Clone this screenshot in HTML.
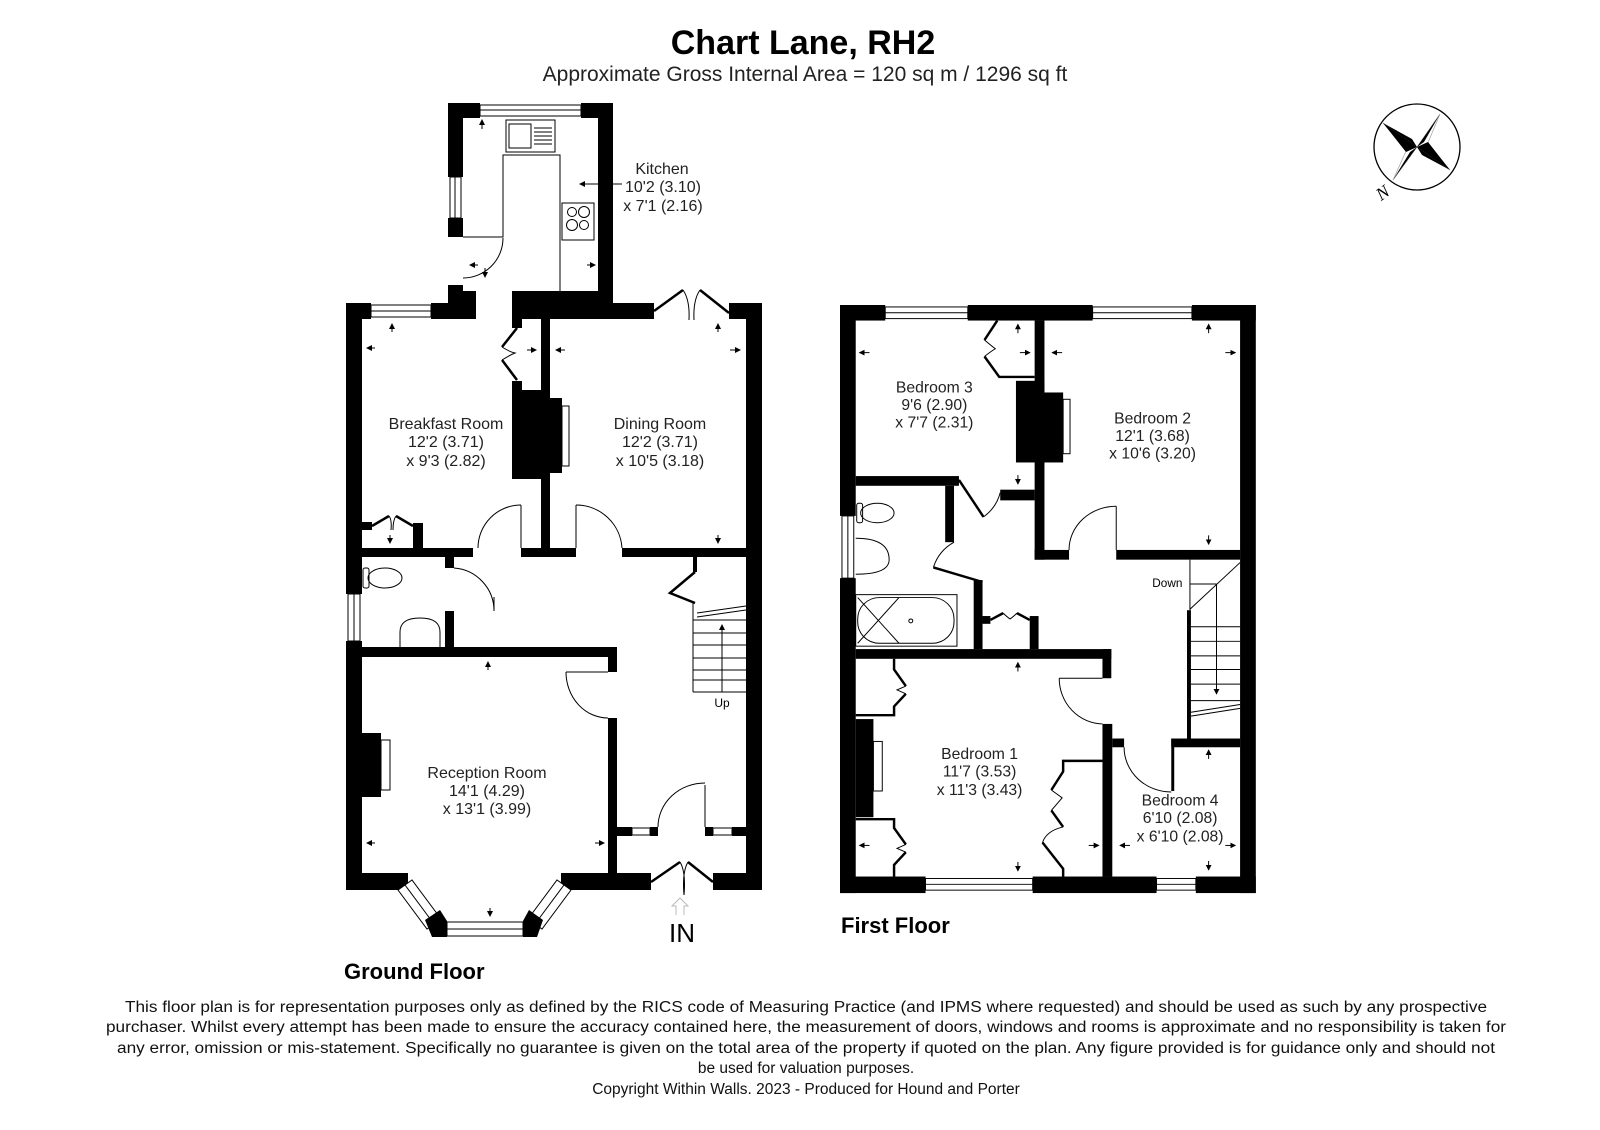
<!DOCTYPE html>
<html><head><meta charset="utf-8"><style>
html,body{margin:0;padding:0;background:#fff;}
svg{display:block;font-family:"Liberation Sans",Arial,sans-serif;}
.w{fill:#000}
.win{fill:#fff;stroke:#000;stroke-width:1}
.t{stroke:#000;stroke-width:1;fill:none}
.tk{stroke:#000;stroke-width:2.5;fill:none}
.lbl{font-size:16px;text-anchor:middle;fill:#222}
</style></head><body>
<svg width="1600" height="1130" viewBox="0 0 1600 1130" xmlns="http://www.w3.org/2000/svg">
<defs><marker id="ar" markerWidth="6" markerHeight="6" refX="5" refY="3" orient="auto"><path d="M0,0 L6,3 L0,6 z" fill="#000"/></marker></defs>
<text x="803" y="54" font-size="34" font-weight="bold" text-anchor="middle">Chart Lane, RH2</text>
<text x="805" y="81" font-size="21" text-anchor="middle" fill="#222">Approximate Gross Internal Area = 120 sq m / 1296 sq ft</text>

<!-- ===== GROUND FLOOR ===== -->
<g>
<rect class="w" x="448" y="103" width="32" height="15"/>
<rect class="w" x="581" y="103" width="32" height="15"/>
<rect class="win" x="480" y="105" width="101" height="11"/><line class="t" x1="480" y1="110" x2="581" y2="110"/>
<rect class="w" x="448" y="103" width="15" height="74"/>
<rect class="win" x="450" y="177" width="11" height="41"/><line class="t" x1="455" y1="177" x2="455" y2="218"/>
<rect class="w" x="448" y="218" width="15" height="19"/>
<rect class="w" x="598" y="103" width="15" height="216"/>
<rect class="w" x="448" y="285" width="15" height="34"/>
<rect class="w" x="463" y="291" width="13" height="28"/>
<rect class="w" x="512" y="291" width="101" height="28"/>
<path class="t" d="M463,237 H503 V155 H560 V291"/>
<rect class="t" x="506" y="120" width="49" height="32"/><rect class="t" x="509" y="124" width="22" height="24"/>
<g class="t"><line x1="534" y1="128" x2="552" y2="128"/><line x1="534" y1="132" x2="552" y2="132"/><line x1="534" y1="136" x2="552" y2="136"/><line x1="534" y1="140" x2="552" y2="140"/><line x1="534" y1="144" x2="552" y2="144"/></g>
<rect class="t" x="562" y="203" width="32" height="37"/>
<circle class="t" cx="572" cy="212" r="4.5"/><circle class="t" cx="584" cy="212" r="5.5"/><circle class="t" cx="572" cy="225" r="5.5"/><circle class="t" cx="584" cy="225" r="4.5"/>
<path class="t" d="M503,238 A40,40 0 0 1 463,278"/>
<line x1="482" y1="121" x2="482" y2="130" stroke="#000" marker-end="url(#ar)" transform="rotate(180 482 125)"/>

<rect class="w" x="346" y="303" width="25" height="16"/>
<rect class="win" x="371" y="305" width="60" height="12"/><line class="t" x1="371" y1="311" x2="431" y2="311"/>
<rect class="w" x="431" y="303" width="45" height="16"/>
<rect class="w" x="512" y="303" width="142" height="16"/>
<rect class="w" x="729" y="303" width="33" height="16"/>
<path class="tk" d="M654,311 L683,290 M729,313 L700,290"/>
<path class="t" d="M683,290 Q690,300 689,320 M700,290 Q693,300 694,320"/>
<rect class="w" x="346" y="303" width="16" height="291"/>
<rect class="win" x="348" y="594" width="12" height="47"/><line class="t" x1="354" y1="594" x2="354" y2="641"/>
<rect class="w" x="346" y="641" width="16" height="249"/>
<rect class="w" x="746" y="303" width="16" height="587"/>
<rect class="w" x="346" y="873" width="62" height="17"/>
<rect class="w" x="561" y="873" width="90" height="17"/>
<rect class="w" x="713" y="873" width="49" height="17"/>
<polygon class="w" points="396,873 408,873 408,890 420,890 413,893 403,890"/>
<polygon class="w" points="573,873 561,873 561,890 549,890 556,893 566,890"/>
<polygon class="win" points="398,890 412,880 441,919 427,929"/>
<line class="t" x1="405" y1="885" x2="434" y2="924"/>
<polygon class="win" points="571,890 557,880 528,919 542,929"/>
<line class="t" x1="564" y1="885" x2="535" y2="924"/>
<polygon class="w" points="425,920 440,910 447,921 447,937 432,937"/>
<polygon class="w" points="543,920 529,910 523,921 523,937 537,937"/>
<rect class="win" x="447" y="922" width="76" height="14"/><line class="t" x1="447" y1="929" x2="523" y2="929"/>
<path class="tk" d="M651,882 L680,862 M713,882 L688,862"/>
<path class="t" d="M680,862 Q686,872 684,895 M688,862 Q682,872 684,895"/>

<rect class="w" x="541" y="319" width="9" height="238"/>
<rect class="w" x="512" y="319" width="10" height="9"/>
<rect class="w" x="512" y="381" width="10" height="9"/>
<rect class="w" x="512" y="390" width="29" height="89"/>
<rect class="w" x="541" y="398" width="21" height="75"/>
<rect class="t" x="562" y="406" width="7" height="60"/>
<path class="tk" d="M517,328 L502,347 M502,360 L517,380"/>
<path class="t" d="M502,347 Q510,352 515,353 Q510,355 502,360"/>
<rect class="w" x="362" y="548" width="111" height="9"/>
<rect class="w" x="521" y="548" width="55" height="9"/>
<rect class="w" x="622" y="548" width="124" height="9"/>
<line class="t" x1="521" y1="505" x2="521" y2="548"/><path class="t" d="M521,505 A43,43 0 0 0 478,548"/>
<line class="t" x1="576" y1="505" x2="576" y2="548"/><path class="t" d="M576,505 A46,46 0 0 1 622,548"/>
<rect class="w" x="362" y="522" width="10" height="8"/>
<rect class="w" x="413" y="523" width="10" height="25"/>
<path class="tk" d="M372,526 L389,516 M413,526 L396,516"/>
<path class="t" d="M389,516 Q392,520 391,530 M396,516 Q393,520 393,530"/>
<rect class="w" x="445" y="557" width="9" height="11"/>
<rect class="w" x="445" y="611" width="9" height="46"/>
<path class="t" d="M454,568 A43,43 0 0 1 494,611 L494,597"/>
<rect class="w" x="362" y="647" width="255" height="10"/>
<rect class="w" x="608" y="647" width="9" height="25"/>
<ellipse class="t" cx="385" cy="578" rx="17" ry="10"/><rect class="t" x="363" y="568" width="6" height="20" rx="2"/>
<path class="t" d="M400,647 V632 Q400,618 420,618 Q440,618 440,632 V647"/>
<rect class="w" x="608" y="718" width="9" height="155"/>
<line class="t" x1="566" y1="672" x2="608" y2="672"/><path class="t" d="M566,672 A42,46 0 0 0 608,718"/>
<rect class="w" x="362" y="733" width="19" height="64"/>
<rect class="t" x="381" y="740" width="9" height="50"/>
<rect class="w" x="617" y="827" width="15" height="9"/>
<rect class="win" x="632" y="828" width="18" height="7"/>
<rect class="w" x="650" y="827" width="8" height="9"/>
<rect class="w" x="705" y="827" width="8" height="9"/>
<rect class="win" x="713" y="828" width="19" height="7"/>
<rect class="w" x="732" y="827" width="14" height="9"/>
<line class="t" x1="705" y1="785" x2="705" y2="827"/><path class="t" d="M658,827 A47,44 0 0 1 705,783"/>
<rect class="w" x="693" y="557" width="4" height="15"/>
<path class="tk" d="M695,572 L670,593 L695,603"/>
<line class="t" x1="693" y1="603" x2="693" y2="692"/>
<line class="t" x1="697" y1="613" x2="746" y2="606"/><line class="t" x1="697" y1="617" x2="746" y2="610"/>
<g class="t"><line x1="693" y1="620" x2="746" y2="620"/><line x1="693" y1="633" x2="746" y2="633"/><line x1="693" y1="645" x2="746" y2="645"/><line x1="693" y1="658" x2="746" y2="658"/><line x1="693" y1="670" x2="746" y2="670"/><line x1="693" y1="680" x2="746" y2="680"/><line x1="693" y1="692" x2="746" y2="692"/></g>
<line x1="722" y1="692" x2="722" y2="625" stroke="#000" marker-end="url(#ar)"/>
<text x="722" y="707" font-size="12" text-anchor="middle">Up</text>
<path d="M676,915 V906 H672 L680,898 L688,906 H684 V915" fill="none" stroke="#bbb" stroke-width="1"/>
<text x="682" y="942" font-size="26" text-anchor="middle">IN</text>

<g stroke="#000" stroke-width="1">
<line x1="375" y1="348" x2="367" y2="348" marker-end="url(#ar)"/>
<line x1="392" y1="332" x2="392" y2="324" marker-end="url(#ar)"/>
<line x1="527" y1="350" x2="536" y2="350" marker-end="url(#ar)"/>
<line x1="565" y1="350" x2="556" y2="350" marker-end="url(#ar)"/>
<line x1="730" y1="350" x2="740" y2="350" marker-end="url(#ar)"/>
<line x1="718" y1="332" x2="718" y2="324" marker-end="url(#ar)"/>
<line x1="718" y1="535" x2="718" y2="543" marker-end="url(#ar)"/>
<line x1="390" y1="535" x2="390" y2="543" marker-end="url(#ar)"/>
<line x1="488" y1="670" x2="488" y2="662" marker-end="url(#ar)"/>
<line x1="375" y1="843" x2="367" y2="843" marker-end="url(#ar)"/>
<line x1="595" y1="843" x2="604" y2="843" marker-end="url(#ar)"/>
<line x1="490" y1="908" x2="490" y2="916" marker-end="url(#ar)"/>
<line x1="485" y1="268" x2="485" y2="277" marker-end="url(#ar)"/>
<line x1="478" y1="265" x2="470" y2="265" marker-end="url(#ar)"/>
<line x1="587" y1="265" x2="595" y2="265" marker-end="url(#ar)"/>
<line x1="622" y1="184" x2="580" y2="184" marker-end="url(#ar)"/>
</g>
<text class="lbl" x="662" y="174">Kitchen</text>
<text class="lbl" x="663" y="192">10'2 (3.10)</text>
<text class="lbl" x="663" y="211">x 7'1 (2.16)</text>
<text class="lbl" x="446" y="429">Breakfast Room</text>
<text class="lbl" x="446" y="447">12'2 (3.71)</text>
<text class="lbl" x="446" y="466">x 9'3 (2.82)</text>
<text class="lbl" x="660" y="429">Dining Room</text>
<text class="lbl" x="660" y="447">12'2 (3.71)</text>
<text class="lbl" x="660" y="466">x 10'5 (3.18)</text>
<text class="lbl" x="487" y="778">Reception Room</text>
<text class="lbl" x="487" y="796">14'1 (4.29)</text>
<text class="lbl" x="487" y="814">x 13'1 (3.99)</text>
<text x="344" y="979" font-size="22" font-weight="bold">Ground Floor</text>
</g>

<!-- ===== FIRST FLOOR ===== -->
<g transform="translate(840 305) scale(0.983 0.972) translate(-840 -305)">
<rect class="w" x="840" y="305" width="46" height="16"/>
<rect class="win" x="886" y="307" width="84" height="12"/><line class="t" x1="886" y1="313" x2="970" y2="313"/>
<rect class="w" x="970" y="305" width="127" height="16"/>
<rect class="win" x="1097" y="307" width="101" height="12"/><line class="t" x1="1097" y1="313" x2="1198" y2="313"/>
<rect class="w" x="1198" y="305" width="65" height="16"/>
<rect class="w" x="840" y="305" width="16" height="217"/>
<rect class="win" x="842" y="522" width="12" height="64"/><line class="t" x1="848" y1="522" x2="848" y2="586"/>
<rect class="w" x="840" y="586" width="16" height="324"/>
<rect class="w" x="1247" y="305" width="16" height="605"/>
<rect class="w" x="840" y="893" width="87" height="17"/>
<rect class="win" x="927" y="895" width="109" height="12"/><line class="t" x1="927" y1="901" x2="1036" y2="901"/>
<rect class="w" x="1036" y="893" width="126" height="17"/>
<rect class="win" x="1162" y="895" width="40" height="12"/><line class="t" x1="1162" y1="901" x2="1202" y2="901"/>
<rect class="w" x="1202" y="893" width="61" height="17"/>
<rect class="w" x="1038" y="321" width="10" height="246"/>
<rect class="w" x="1019" y="383" width="29" height="84"/>
<rect class="w" x="1048" y="395" width="19" height="72"/>
<rect class="t" x="1067" y="402" width="7" height="56"/>
<path class="tk" d="M1000,321 L987,341 M987,358 L1002,379 H1038"/>
<path class="t" d="M987,341 Q994,347 998,350 Q993,353 987,358"/>
<rect class="w" x="856" y="481" width="105" height="10"/>
<rect class="w" x="1003" y="495" width="35" height="11"/>
<path class="tk" d="M961,485 L986,523"/><path class="t" d="M986,523 A45,45 0 0 0 1003,498"/>
<rect class="w" x="947" y="491" width="9" height="58"/>
<path class="tk" d="M985,590 L935,575"/><path class="t" d="M935,575 A45,45 0 0 1 956,549"/>
<rect class="w" x="976" y="588" width="9" height="71"/>
<rect class="w" x="856" y="659" width="260" height="10"/>
<rect class="w" x="1107" y="659" width="9" height="30"/>
<rect class="w" x="985" y="625" width="8" height="8"/>
<rect class="w" x="1033" y="625" width="9" height="34"/>
<path class="tk" d="M993,629 L1006,622 M1033,629 L1020,622"/>
<path class="t" d="M1006,622 Q1010,626 1013,628 Q1016,626 1020,622"/>
<rect class="w" x="1038" y="557" width="35" height="10"/>
<rect class="w" x="1121" y="557" width="126" height="10"/>
<line class="t" x1="1121" y1="512" x2="1121" y2="557"/><path class="t" d="M1121,512 A48,45 0 0 0 1073,557"/>
<rect class="w" x="1107" y="736" width="10" height="157"/>
<rect class="w" x="1117" y="751" width="12" height="9"/>
<rect class="w" x="1177" y="751" width="70" height="9"/>
<rect class="w" x="1177" y="751" width="3" height="54"/>
<path class="t" d="M1129,760 A48,46 0 0 0 1177,806"/>
<line class="t" x1="1063" y1="689" x2="1107" y2="689"/><path class="t" d="M1063,689 A45,47 0 0 0 1107,736"/>
<line class="t" x1="1196" y1="567" x2="1196" y2="619"/>
<rect class="w" x="1193" y="619" width="4" height="132"/>
<line class="t" x1="1196" y1="618" x2="1247" y2="570"/>
<line class="t" x1="1196" y1="592" x2="1223" y2="592"/>
<g class="t"><line x1="1197" y1="636" x2="1247" y2="636"/><line x1="1197" y1="651" x2="1247" y2="651"/><line x1="1197" y1="666" x2="1247" y2="666"/><line x1="1197" y1="680" x2="1247" y2="680"/><line x1="1197" y1="695" x2="1247" y2="695"/><line x1="1197" y1="712" x2="1247" y2="712"/></g>
<line class="t" x1="1197" y1="724" x2="1247" y2="716"/><line class="t" x1="1197" y1="728" x2="1247" y2="720"/>
<line x1="1223" y1="592" x2="1223" y2="705" stroke="#000" marker-end="url(#ar)"/>
<text x="1173" y="595" font-size="12" text-anchor="middle">Down</text>
<rect class="w" x="856" y="731" width="18" height="101"/>
<rect class="t" x="874" y="754" width="9" height="51"/>
<path class="tk" d="M895,669 V680 L907,697 M907,705 L895,718 V727 H856"/>
<path class="t" d="M907,697 L898,701 L907,705"/>
<path class="tk" d="M856,834 H895 V843 L907,860 M907,868 L895,881 V893"/>
<path class="t" d="M907,860 L898,864 L907,868"/>
<path class="tk" d="M1107,774 H1067 V785 L1055,804 M1055,825 L1067,842 M1046,858 L1067,885 V893"/>
<path class="t" d="M1055,804 L1066,812 L1055,825 M1067,842 Q1050,846 1046,858"/>
<ellipse class="t" cx="878" cy="519" rx="17" ry="10"/><rect class="t" x="857" y="509" width="6" height="20" rx="2"/>
<path class="t" d="M856,545 Q890,545 890,567 Q890,582 856,582"/>
<rect class="t" x="856" y="603" width="103" height="53"/>
<rect class="t" x="858" y="606" width="98" height="47" rx="22"/>
<path class="t" d="M858,606 L900,653 M858,653 L900,606"/>
<circle class="t" cx="912" cy="630" r="2"/>
<g stroke="#000" stroke-width="1">
<line x1="870" y1="354" x2="860" y2="354" marker-end="url(#ar)"/>
<line x1="1023" y1="354" x2="1033" y2="354" marker-end="url(#ar)"/>
<line x1="1021" y1="334" x2="1021" y2="325" marker-end="url(#ar)"/>
<line x1="1021" y1="480" x2="1021" y2="489" marker-end="url(#ar)"/>
<line x1="1066" y1="354" x2="1056" y2="354" marker-end="url(#ar)"/>
<line x1="1232" y1="354" x2="1242" y2="354" marker-end="url(#ar)"/>
<line x1="1215" y1="334" x2="1215" y2="325" marker-end="url(#ar)"/>
<line x1="1215" y1="542" x2="1215" y2="551" marker-end="url(#ar)"/>
<line x1="1021" y1="682" x2="1021" y2="673" marker-end="url(#ar)"/>
<line x1="870" y1="861" x2="860" y2="861" marker-end="url(#ar)"/>
<line x1="1093" y1="861" x2="1103" y2="861" marker-end="url(#ar)"/>
<line x1="1021" y1="878" x2="1021" y2="887" marker-end="url(#ar)"/>
<line x1="1135" y1="861" x2="1125" y2="861" marker-end="url(#ar)"/>
<line x1="1232" y1="861" x2="1242" y2="861" marker-end="url(#ar)"/>
<line x1="1215" y1="772" x2="1215" y2="763" marker-end="url(#ar)"/>
<line x1="1215" y1="877" x2="1215" y2="886" marker-end="url(#ar)"/>
</g>
<text class="lbl" x="936" y="395">Bedroom 3</text>
<text class="lbl" x="936" y="413">9'6 (2.90)</text>
<text class="lbl" x="936" y="431">x 7'7 (2.31)</text>
<text class="lbl" x="1158" y="427">Bedroom 2</text>
<text class="lbl" x="1158" y="445">12'1 (3.68)</text>
<text class="lbl" x="1158" y="463">x 10'6 (3.20)</text>
<text class="lbl" x="982" y="772">Bedroom 1</text>
<text class="lbl" x="982" y="790">11'7 (3.53)</text>
<text class="lbl" x="982" y="809">x 11'3 (3.43)</text>
<text class="lbl" x="1186" y="820">Bedroom 4</text>
<text class="lbl" x="1186" y="838">6'10 (2.08)</text>
<text class="lbl" x="1186" y="857">x 6'10 (2.08)</text>
</g>
<text x="841" y="933" font-size="22" font-weight="bold">First Floor</text>

<!-- compass -->
<g>
<circle cx="1417" cy="147" r="43" fill="none" stroke="#000" stroke-width="1.3"/>
<polygon points="1383,123 1417,147 1440,114 1427,145 1450,170 1417,147 1393,180 1407,149" fill="none" stroke="#aaa" stroke-width="0.8"/>
<polygon points="1383,123 1412,139 1417,147" fill="#000"/>
<polygon points="1383,123 1406,152 1417,147" fill="#000"/>
<polygon points="1440,114 1424,142 1417,147" fill="#000"/>
<polygon points="1450,170 1422,155 1417,147" fill="#000"/>
<polygon points="1450,170 1428,142 1417,147" fill="#000"/>
<polygon points="1393,180 1410,152 1417,147" fill="#000"/>
<text x="1382" y="199" font-size="18" font-family="Liberation Serif,serif" font-style="italic" text-anchor="middle" transform="rotate(-35 1382 192)">N</text>
</g>

<g font-size="15.5" fill="#111" text-anchor="middle">
<text x="806" y="1012" textLength="1362" lengthAdjust="spacingAndGlyphs">This floor plan is for representation purposes only as defined by the RICS code of Measuring Practice (and IPMS where requested) and should be used as such by any prospective</text>
<text x="806" y="1032" textLength="1400" lengthAdjust="spacingAndGlyphs">purchaser. Whilst every attempt has been made to ensure the accuracy contained here, the measurement of doors, windows and rooms is approximate and no responsibility is taken for</text>
<text x="806" y="1053" textLength="1378" lengthAdjust="spacingAndGlyphs">any error, omission or mis-statement. Specifically no guarantee is given on the total area of the property if quoted on the plan. Any figure provided is for guidance only and should not</text>
<text x="806" y="1073">be used for valuation purposes.</text>
<text x="806" y="1094">Copyright Within Walls. 2023 - Produced for Hound and Porter</text>
</g>
</svg>
</body></html>
